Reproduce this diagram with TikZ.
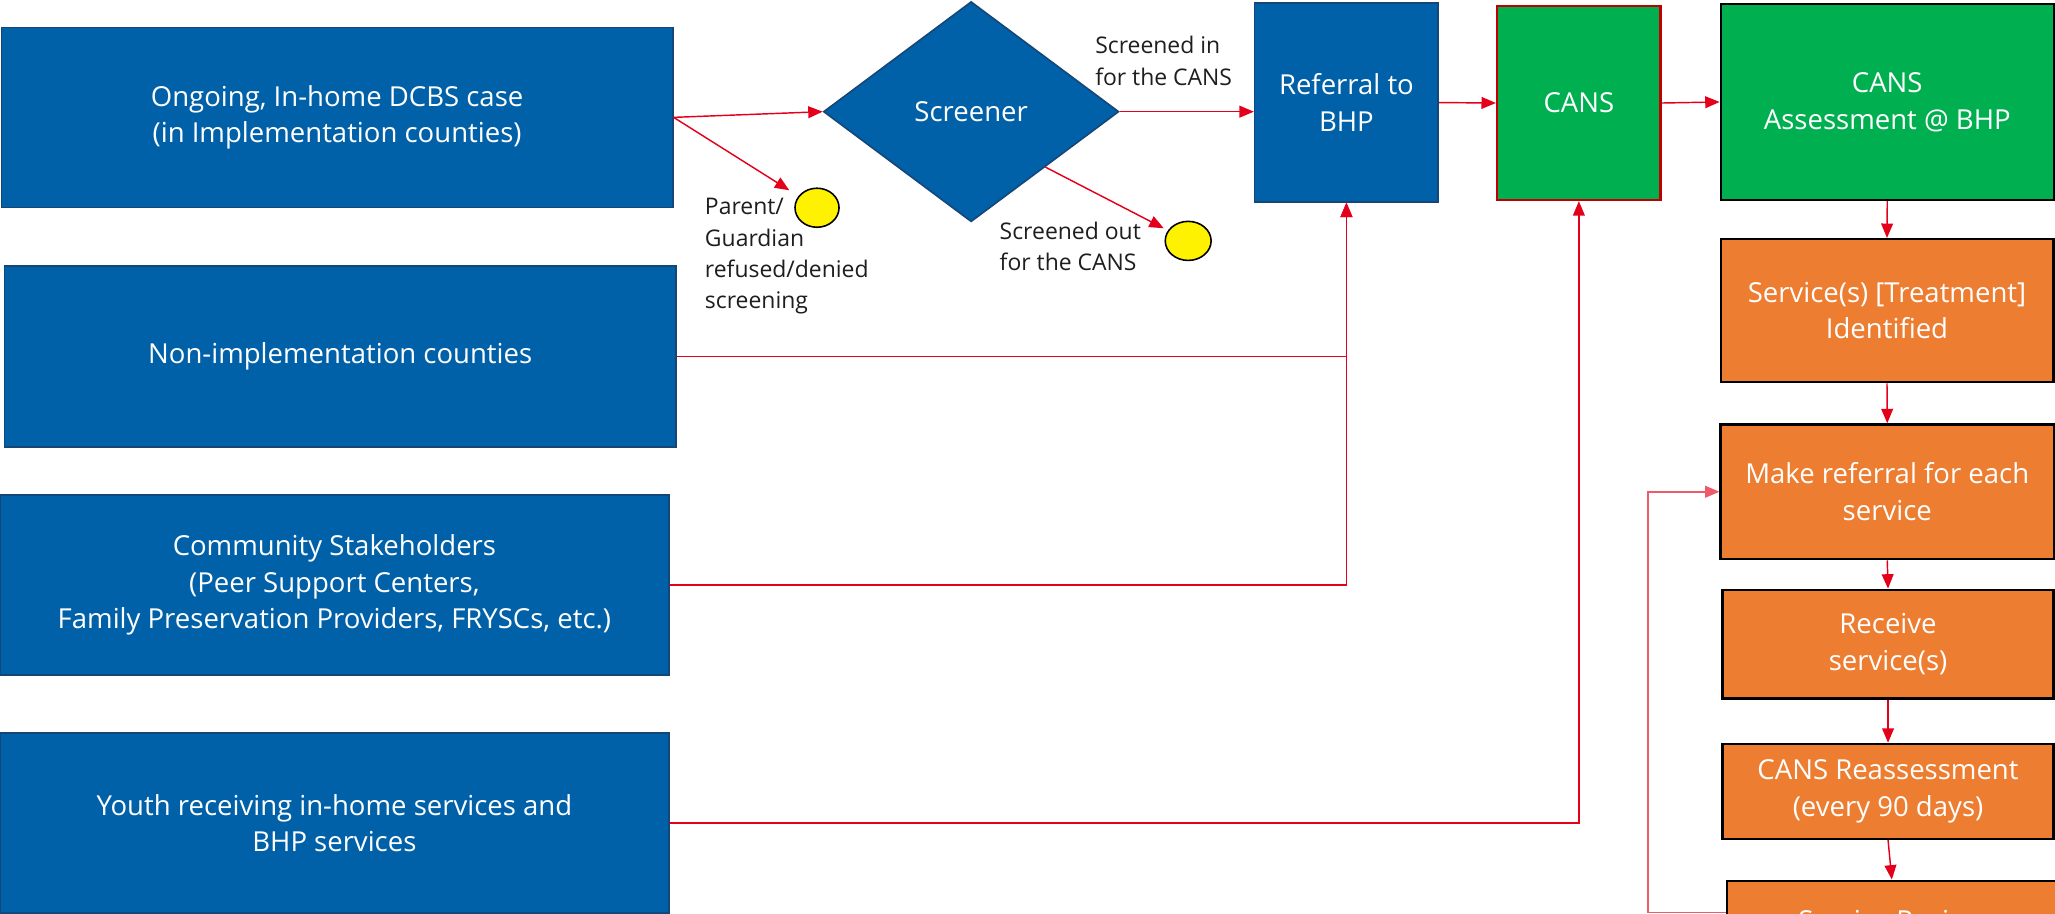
\documentclass[tikz,border=0pt]{standalone}
\usepackage{fontspec}
\setmainfont{Open Sans}
\usetikzlibrary{arrows.meta,shapes.geometric}
\definecolor{bblue}{RGB}{0,97,168}
\definecolor{bedge}{RGB}{20,70,120}
\definecolor{bgreen}{RGB}{0,176,80}
\definecolor{borange}{RGB}{237,125,49}
\definecolor{ared}{RGB}{228,0,27}
\definecolor{lred}{RGB}{238,90,105}
\definecolor{cansedge}{RGB}{192,0,0}
\definecolor{labtxt}{RGB}{30,30,30}
\tikzset{
  boxtext/.style={text=white, align=center, font=\fontsize{21}{28}\selectfont, inner sep=0pt},
  bluebox/.style={boxtext, rectangle, fill=bblue, draw=bedge, line width=1.2pt},
  greenbox/.style={boxtext, rectangle, fill=bgreen, draw=black, line width=1.8pt},
  orangebox/.style={boxtext, rectangle, fill=borange, draw=black, line width=1.8pt},
  yellowdot/.style={ellipse, fill=yellow, draw=black, line width=1.2pt, inner sep=0pt},
  lab/.style={text=labtxt, align=left, anchor=west, inner sep=0pt, font=\fontsize{17.5}{23.8}\selectfont},
  arr/.style={draw=ared, line width=1.1pt, -{Triangle[length=11pt,width=9pt]}},
  looparr/.style={draw=lred, line width=1.3pt, -{Triangle[length=11pt,width=9pt]}, color=lred},
}
\begin{document}
\begin{tikzpicture}[x=1pt,y=-1pt]
\clip (0,0) rectangle (1568,697);
\fill[white] (0,0) rectangle (1568,697);
% left boxes
\node[bluebox, minimum width=512.4pt, minimum height=137.3pt] (b1) at (257.2,89.55) {Ongoing, In-home DCBS case\\(in Implementation counties)};
\node[bluebox, minimum width=512.3pt, minimum height=138pt] (b2) at (259.55,272) {Non-implementation counties};
\node[bluebox, minimum width=510.3pt, minimum height=137.3pt] (b3) at (255.15,446.35) {Community Stakeholders\\(Peer Support Centers,\\Family Preservation Providers, FRYSCs, etc.)};
\node[bluebox, minimum width=510.3pt, minimum height=137.3pt] (b4) at (255.15,628) {Youth receiving in-home services and\\BHP services};
% screener
\node[diamond, fill=bblue, draw=bedge, line width=1.2pt, minimum width=225.4pt, minimum height=168pt, aspect=1.34, inner sep=0pt, text=white, font=\fontsize{21}{28}\selectfont] (scr) at (741,85.2) {Screener};
% top row
\node[bluebox, minimum width=140.1pt, minimum height=151.5pt] (ref) at (1027.35,78.25) {Referral to\\BHP};
\node[greenbox, draw=cansedge, minimum width=124.8pt, minimum height=148pt] (cans) at (1204.7,78.6) {CANS};
\node[greenbox, minimum width=254pt, minimum height=149.6pt] (assess) at (1440,77.8) {CANS\\Assessment @ BHP};
% right column
\node[orangebox, minimum width=253.8pt, minimum height=109.1pt] (serv) at (1439.8,237) {Service(s) [Treatment]\\Identified};
\node[orangebox, minimum width=254.3pt, minimum height=102.8pt] (mref) at (1440,375.2) {Make referral for each\\service};
\node[orangebox, minimum width=252.7pt, minimum height=83pt] (recv) at (1440.6,491.5) {Receive\\service(s)};
\node[orangebox, minimum width=252.7pt, minimum height=72.4pt] (reas) at (1440.6,603.8) {CANS Reassessment\\(every 90 days)};
\node[orangebox, minimum width=252pt, minimum height=60pt] (rev) at (1443.5,702) {Service Review};
% yellow dots
\node[yellowdot, minimum width=33.6pt, minimum height=29.8pt] (c1) at (623.4,158.5) {};
\node[yellowdot, minimum width=35pt, minimum height=29.8pt] (c2) at (906.6,183.8) {};
% labels
\node[lab] (l1) at (537.7,195.5) {Parent/\\Guardian\\refused/denied\\screening};
\node[lab] (l2) at (835.5,46.5) {Screened in\\for the CANS};
\node[lab] (l3) at (762.6,188.3) {Screened out\\for the CANS};
% connectors
\draw[arr] (b1.east) -- (scr.west);
\draw[arr, shorten >=25pt] (b1.east) -- (c1.center);
\draw[arr, shorten >=21pt] (scr.south east) -- (c2.center);
\draw[arr] (scr.east) -- (scr.east -| ref.west);
\draw[arr] (ref.east) -- (cans.west);
\draw[arr] (cans.east) -- (assess.west);
\draw[arr] (b2.east) -| (ref.south);
\draw[arr] (b3.east) -| (ref.south);
\draw[arr] (b4.east) -| (cans.south);
\draw[arr] (assess.south) -- (serv.north);
\draw[arr] (serv.south) -- (mref.north);
\draw[arr] (mref.south) -- (recv.north);
\draw[arr] (recv.south) -- (reas.north);
\draw[arr] (reas.south) -- (rev.north);
\coordinate (lp) at (1257.6,696.2);
\draw[looparr] (rev.west |- lp) -- (lp) |- (mref.west);
\end{tikzpicture}
\end{document}
